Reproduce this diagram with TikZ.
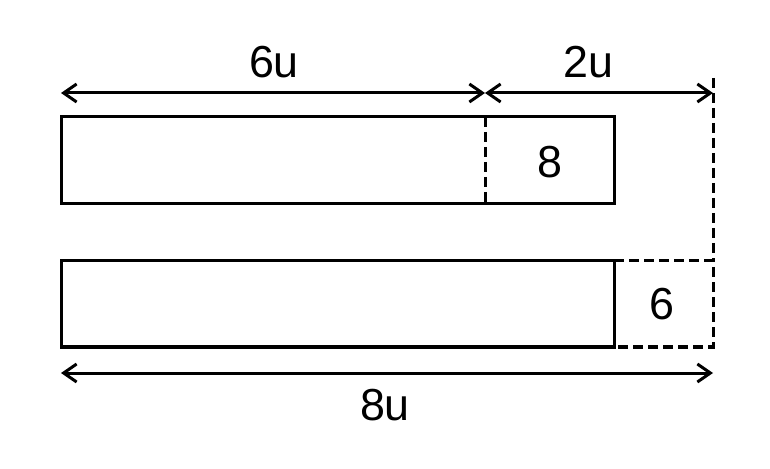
\documentclass[tikz,border=0pt]{standalone}
\usepackage{fontspec}
\setmainfont{Liberation Sans}
\usetikzlibrary{arrows.meta}

\begin{document}
\begin{tikzpicture}[x=1bp, y=-1bp, line width=3bp,
	dimline/.style={{Straight Barb[length=13bp,width=18bp]}-{Straight Barb[length=13bp,width=18bp]}},
	dashline/.style={dash pattern=on 10bp off 5bp},
	lbl/.style={font=\fontsize{45}{54}\selectfont, inner sep=0pt}]

	\useasboundingbox (0,0) rectangle (770,469);

	% corners of the two bars
	\coordinate (t_nw) at (61,117);
	\coordinate (t_se) at (614,204);
	\coordinate (t_mn) at (485,117);
	\coordinate (t_ms) at (485,204);
	\coordinate (b_nw) at (61,261);
	\coordinate (b_se) at (614,347);
	\coordinate (b_ne) at (614,261);
	\coordinate (x_ne) at (713,261);
	\coordinate (x_se) at (713,347);

	% ends of the dimension lines
	\coordinate (d_l) at (61,93);
	\coordinate (d_m) at (485,93);
	\coordinate (d_r) at (713,93);
	\coordinate (d_top) at (713,78);
	\coordinate (e_l) at (61,373);
	\coordinate (e_r) at (713,373);

	% draw bars
	\draw (t_nw) rectangle (t_se);
	\draw[dashline] (t_mn) -- (t_ms);
	\draw (b_nw) rectangle (b_se);
	\draw[dashline] (b_ne) -- (x_ne) -- (x_se) -- (b_se);
	\draw[dashline] (d_top) -- (x_ne);

	% draw dimensions
	\draw[dimline] (d_l) -- (d_m);
	\draw[dimline] (d_m) -- (d_r);
	\draw[dimline] (e_l) -- (e_r);

	% labels
	\node[lbl] (l_6u) at (274,62) {6u};
	\node[lbl] (l_2u) at (588,62) {2u};
	\node[lbl] (l_8) at (550,162) {8};
	\node[lbl] (l_6) at (662,304) {6};
	\node[lbl] (l_8u) at (385,405) {8u};

\end{tikzpicture}
\end{document}
